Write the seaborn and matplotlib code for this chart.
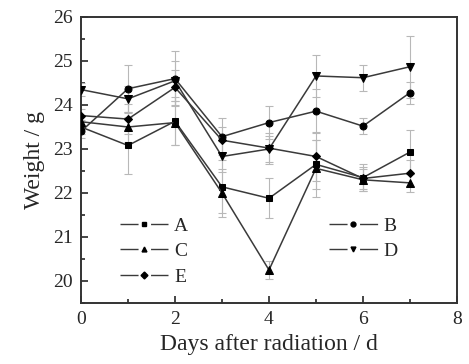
import numpy as np
import pandas as pd
import seaborn as sns
import matplotlib.pyplot as plt
from matplotlib.lines import Line2D
from matplotlib.ticker import MultipleLocator

days = [0, 1, 2, 3, 4, 5, 6, 7]

# mean weights per group
weight_a = [23.50, 23.08, 23.63, 22.14, 21.88, 22.65, 22.35, 22.93]
weight_b = [23.40, 24.37, 24.60, 23.28, 23.60, 23.86, 23.52, 24.28]
weight_c = [23.62, 23.50, 23.60, 22.00, 20.25, 22.56, 22.30, 22.23]
weight_d = [24.35, 24.14, 24.55, 22.83, 23.00, 24.66, 24.62, 24.87]
weight_e = [23.76, 23.68, 24.40, 23.20, 23.02, 22.83, 22.33, 22.45]

# standard deviations
err_a = [0.15, 0.65, 0.55, 0.60, 0.45, 0.55, 0.30, 0.50]
err_b = [0.15, 0.55, 0.63, 0.42, 0.38, 0.50, 0.18, 0.25]
err_c = [0.15, 0.35, 0.50, 0.55, 0.20, 0.65, 0.25, 0.20]
err_d = [0.15, 0.30, 0.45, 0.35, 0.30, 0.48, 0.30, 0.70]
err_e = [0.15, 0.35, 0.40, 0.30, 0.35, 0.55, 0.25, 0.30]

groups = ["A", "B", "C", "D", "E"]
markers = {"A": "s", "B": "o", "C": "^", "D": "v", "E": "D"}
msize = {"A": 4.5, "B": 5, "C": 5.5, "D": 5.5, "E": 4.5}

df = pd.DataFrame({
    "day": days * 5,
    "weight": weight_a + weight_b + weight_c + weight_d + weight_e,
    "err": err_a + err_b + err_c + err_d + err_e,
    "group": [g for g in groups for _ in days],
})

sns.set_style("ticks")
plt.rcParams["font.family"] = ["Liberation Serif", "DejaVu Serif"]

fig = plt.figure(figsize=(4.69, 3.64), dpi=100)
ax = fig.add_axes([0.1727, 0.1676, 0.8017, 0.7857])

line_col = "#3a3a3a"

# error bars first, light grey
for g in groups:
    sub = df[df["group"] == g]
    ax.errorbar(sub["day"], sub["weight"], yerr=sub["err"], fmt="none",
                ecolor="#b8b8b8", elinewidth=0.8, capsize=3, capthick=0.8, zorder=1)

for g in groups:
    sub = df[df["group"] == g]
    sns.lineplot(data=sub, x="day", y="weight", ax=ax, color=line_col,
                 linewidth=1.1, marker=markers[g], markersize=msize[g],
                 markeredgecolor="black", markerfacecolor="black", zorder=3)

ax.set_xlim(0, 8)
ax.set_ylim(19.5, 26)
ax.xaxis.set_major_locator(MultipleLocator(2))
ax.xaxis.set_minor_locator(MultipleLocator(1))
ax.yaxis.set_major_locator(MultipleLocator(1))
ax.yaxis.set_minor_locator(MultipleLocator(0.5))
ax.tick_params(which="both", direction="in", top=False, right=False, width=1.2)
ax.tick_params(which="major", length=5, labelsize=14, pad=6)
ax.tick_params(which="minor", length=3)
for s in ax.spines.values():
    s.set_linewidth(1.4)
    s.set_color("#333333")

ax.set_xlabel("Days after radiation / d", fontsize=17, labelpad=4)
ax.set_ylabel("Weight / g", fontsize=17, labelpad=6)

# legend handles: short dash, marker, short dash
def proxy(g):
    return Line2D([], [], color=line_col, linewidth=1.0, dashes=(13, 9),
                  marker=markers[g], markersize=3.5, markerfacecolor="black",
                  markeredgecolor="black")

leg_kw = dict(loc="upper left", frameon=False, fontsize=14, handlelength=2.5,
              handletextpad=0.3, labelspacing=0.42, borderpad=0)
leg1 = ax.legend([proxy(g) for g in ["A", "C", "E"]], ["A", "C", "E"],
                 bbox_to_anchor=(0.077, 0.335), **leg_kw)
ax.add_artist(leg1)
ax.legend([proxy(g) for g in ["B", "D"]], ["B", "D"],
          bbox_to_anchor=(0.634, 0.335), **leg_kw)

fig.savefig("out.png", dpi=100)
